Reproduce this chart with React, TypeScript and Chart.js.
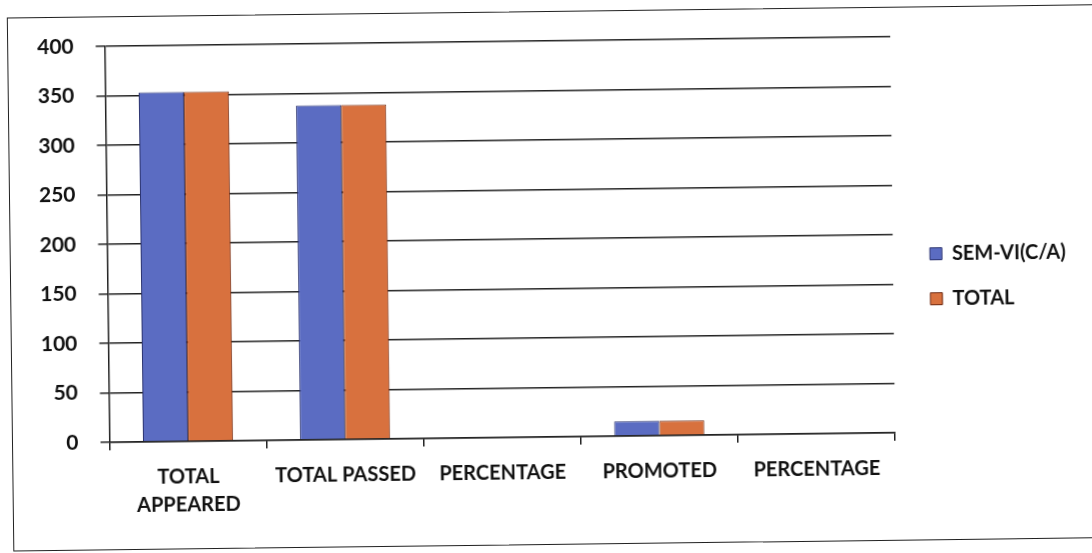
import React, { useEffect, useRef } from "react";
import { Chart, registerables } from "chart.js";

Chart.register(...registerables);

const categories: (string | string[])[] = [
  ["TOTAL", "APPEARED"],
  "TOTAL PASSED",
  "PERCENTAGE",
  "PROMOTED",
  "PERCENTAGE",
];
const semVI: number[] = [353, 338, 0, 15, 0];
const total: number[] = [353, 338, 0, 15, 0];
const yTicks: number[] = [0, 50, 100, 150, 200, 250, 300, 350, 400];

const FONT = "Lato, 'Open Sans', sans-serif";

const legendShift = {
  id: "legendShift",
  afterLayout(chart: any) {
    const lg = chart.legend;
    if (lg) {
      lg.left += 12;
      lg.right += 12;
      lg.top -= 4;
      lg.bottom -= 4;
    }
  },
};

export default function App() {
  const ref = useRef<HTMLCanvasElement | null>(null);
  useEffect(() => {
    if (!ref.current) return;
    const chart = new Chart(ref.current, {
      type: "bar",
      data: {
        labels: categories,
        datasets: [
          {
            label: "SEM-VI(C/A)",
            data: semVI,
            backgroundColor: "#5b6cc2",
            borderColor: "#2c3470",
            borderWidth: 1,
            categoryPercentage: 0.574,
            barPercentage: 1,
          },
          {
            label: "TOTAL",
            data: total,
            backgroundColor: "#d8713e",
            borderColor: "#6e2a12",
            borderWidth: 1,
            categoryPercentage: 0.574,
            barPercentage: 1,
          },
        ],
      },
      plugins: [legendShift],
      options: {
        animation: false,
        responsive: false,
        maintainAspectRatio: false,
        layout: { padding: { left: 18, top: 41, right: 28, bottom: 24 } },
        plugins: {
          tooltip: { enabled: false },
          legend: {
            position: "right",
            align: "center",
            labels: {
              boxWidth: 12,
              boxHeight: 12,
              padding: 25,
              color: "#111",
              font: { family: FONT, size: 20, weight: "bold" },
            },
          },
        },
        scales: {
          x: {
            grid: {
              display: true,
              drawOnChartArea: false,
              drawTicks: true,
              tickLength: 8,
              color: "#222",
              lineWidth: 1.5,
              offset: true,
            },
            border: { display: true, color: "#222", width: 1.5 },
            ticks: {
              color: "#111",
              font: { family: FONT, size: 20, weight: "bold", lineHeight: 1.4 },
              padding: 14,
              maxRotation: 0,
              autoSkip: false,
            },
          },
          y: {
            min: 0,
            max: 400,
            afterBuildTicks: (axis: any) => {
              axis.ticks = yTicks.map((v) => ({ value: v }));
            },
            grid: {
              color: "#222",
              lineWidth: 1.5,
              tickLength: 9,
              drawTicks: true,
            },
            border: { display: true, color: "#222", width: 1.5 },
            ticks: {
              color: "#111",
              font: { family: FONT, size: 21, weight: "bold" },
              padding: 22,
            },
          },
        },
      },
    });
    return () => chart.destroy();
  }, []);

  return (
    <div
      style={{
        position: "fixed",
        left: 0,
        top: 0,
        width: 1092,
        height: 553,
        background: "#fff",
        overflow: "hidden",
      }}
    >
      <div
        style={{
          position: "absolute",
          left: 0,
          top: 0,
          width: 1092,
          height: 553,
          transform: "rotate(-0.7deg)",
          transformOrigin: "546px 276px",
        }}
      >
        <div
          style={{
            position: "absolute",
            left: 10,
            top: 11,
            width: 1090,
            height: 532,
            border: "1.5px solid #222",
          }}
        />
        <canvas
          ref={ref}
          width={1092}
          height={553}
          style={{ position: "absolute", left: 0, top: 0, width: 1092, height: 553 }}
        />
      </div>
    </div>
  );
}
